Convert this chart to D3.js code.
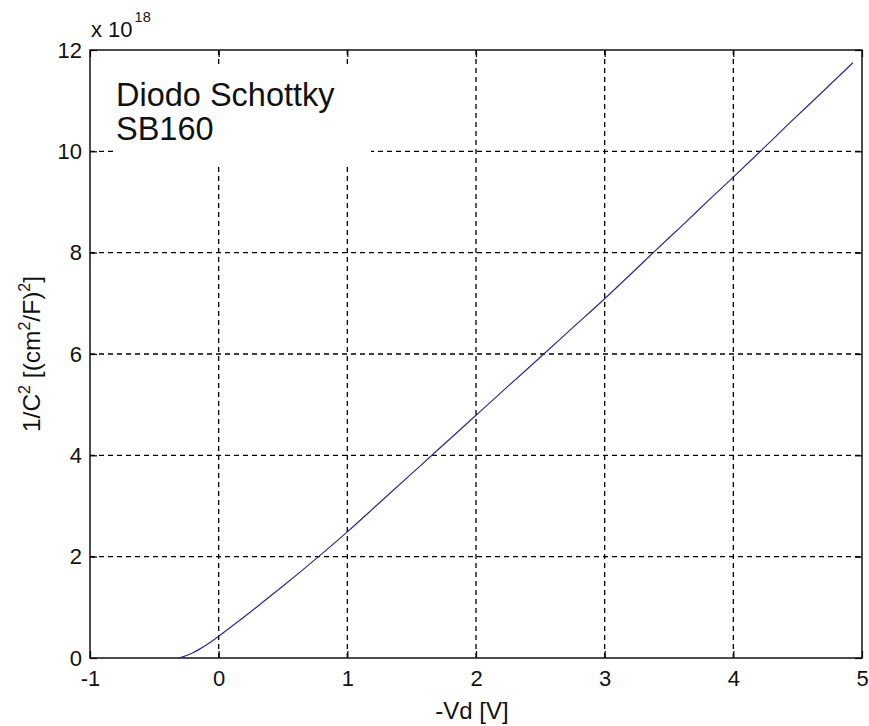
<!DOCTYPE html>
<html>
<head>
<meta charset="utf-8">
<script src="https://cdn.jsdelivr.net/npm/d3@7"></script>
<style>
  html, body { margin: 0; padding: 0; background: #ffffff; }
  svg { display: block; font-family: "Liberation Sans", Arial, sans-serif; }
</style>
</head>
<body>
<svg id="chart" width="869" height="726"></svg>
<script>
// Reverse bias voltage -Vd [V]
const voltage = [-0.31, -0.25, -0.2, -0.145, -0.1, -0.05, 0.0, 0.1, 0.2, 0.32, 0.5, 0.63, 0.79,
  1.0, 1.25, 1.5, 1.67, 2.0, 2.25, 2.54, 2.75, 3.0, 3.2, 3.39, 3.6, 3.84, 4.0, 4.21, 4.45, 4.7, 4.93];
// 1/C^2 in units of 1e18 (cm^2/F)^2
const invC2 = [0.0, 0.05, 0.105, 0.18, 0.25, 0.335, 0.43, 0.62, 0.815, 1.055, 1.42, 1.69, 2.03,
  2.49, 3.065, 3.64, 4.03, 4.79, 5.365, 6.03, 6.515, 7.09, 7.57, 8.03, 8.53, 9.11, 9.49, 10.0, 10.59, 11.19, 11.75];

const xTicks = [-1, 0, 1, 2, 3, 4, 5];
const yTicks = [0, 2, 4, 6, 8, 10, 12];
const titleLines = ["Diodo Schottky", "SB160"];

const svg = d3.select("#chart");
const pLeft = 90, pRight = 862, pTop = 50, pBottom = 658;

const x = d3.scaleLinear().domain([-1, 5]).range([pLeft, pRight]);
const y = d3.scaleLinear().domain([0, 12]).range([pBottom, pTop]);

// dashed grid
const grid = svg.append("g").attr("stroke", "#000").attr("stroke-width", 1.3)
  .attr("stroke-dasharray", "5,4").attr("fill", "none");
grid.selectAll("line.v").data(xTicks.slice(1, -1)).join("line").attr("class", "v")
  .attr("x1", d => x(d)).attr("x2", d => x(d)).attr("y1", pTop).attr("y2", pBottom);
grid.selectAll("line.h").data(yTicks.slice(1, -1)).join("line").attr("class", "h")
  .attr("x1", pLeft).attr("x2", pRight).attr("y1", d => y(d)).attr("y2", d => y(d));

// axes with inward ticks on all four sides
const tickLen = 7;
const plain = d => String(d);   // keep an ASCII hyphen for negative labels
svg.append("g").attr("transform", `translate(0,${pBottom})`)
  .call(d3.axisBottom(x).tickValues(xTicks).tickSize(-tickLen).tickPadding(12).tickFormat(plain));
svg.append("g").attr("transform", `translate(0,${pTop})`)
  .call(d3.axisTop(x).tickValues(xTicks).tickSize(-tickLen).tickFormat(""));
svg.append("g").attr("transform", `translate(${pLeft},0)`)
  .call(d3.axisLeft(y).tickValues(yTicks).tickSize(-tickLen).tickPadding(8).tickFormat(plain));
svg.append("g").attr("transform", `translate(${pRight},0)`)
  .call(d3.axisRight(y).tickValues(yTicks).tickSize(-tickLen).tickFormat(""));

svg.selectAll(".domain").remove();
svg.selectAll(".tick line").attr("stroke", "#000").attr("stroke-width", 1.2);
svg.selectAll(".tick text").attr("font-family", "'Liberation Sans', Arial, sans-serif")
  .attr("font-size", 22).attr("fill", "#111");

// axes box
svg.append("rect").attr("x", pLeft).attr("y", pTop).attr("width", pRight - pLeft).attr("height", pBottom - pTop)
  .attr("fill", "none").attr("stroke", "#000").attr("stroke-width", 1.4);

// measured curve
const line = d3.line().x((d, i) => x(voltage[i])).y(d => y(d)).curve(d3.curveMonotoneX);
svg.append("path").datum(invC2).attr("d", line)
  .attr("fill", "none").attr("stroke", "#2a2a88").attr("stroke-width", 1.2);

// annotation with white background
svg.append("rect").attr("x", 115).attr("y", 68).attr("width", 256).attr("height", 98).attr("fill", "#fff");
const note = svg.append("text").attr("font-size", 32.5).attr("fill", "#111");
titleLines.forEach((t, i) => {
  note.append("tspan").attr("x", 116).attr("y", 106 + i * 34).text(t);
});

// exponent label
const ex = svg.append("text").attr("x", 91).attr("y", 37).attr("font-size", 22).attr("fill", "#111");
ex.append("tspan").text("x 10");
ex.append("tspan").attr("font-size", 14.5).attr("dy", -15).attr("dx", 2).text("18");

// x axis label
svg.append("text").attr("x", 472).attr("y", 719).attr("text-anchor", "middle")
  .attr("font-size", 24).attr("fill", "#111").text("-Vd [V]");

// y axis label with superscripts
const yl = svg.append("text").attr("transform", "translate(40,354) rotate(-90)")
  .attr("text-anchor", "middle").attr("font-size", 24.5).attr("fill", "#111");
const parts = [["1/C", false], ["2", true], [" [(cm", false], ["2", true], ["/F)", false], ["2", true], ["]", false]];
parts.forEach(([t, sup], i) => {
  const ts = yl.append("tspan").text(t);
  if (sup) ts.attr("font-size", 16).attr("dy", -10);
  else if (i > 0) ts.attr("dy", 10);
});
</script>
</body>
</html>
